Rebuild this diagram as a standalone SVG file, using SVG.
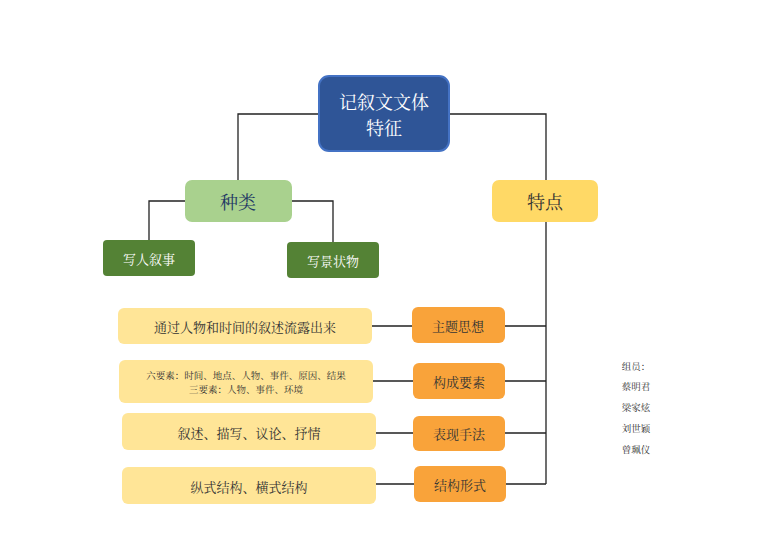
<svg xmlns="http://www.w3.org/2000/svg" width="768" height="543" viewBox="0 0 768 543">
<style>
text{font-family:"Noto Serif CJK SC","Noto Sans CJK SC",serif;text-anchor:middle;dominant-baseline:central}
.c{stroke:#222;stroke-width:1.3;fill:none}
.o{fill:#F9A33A}
.l{fill:#FFE597}
.t{fill:#333}
</style>
<rect width="768" height="543" fill="#fff"/>
<g id="connectors">
<path class="c" d="M319 114H238V180M449 114H546V180M185 201H149V240M292 201H333V242M546 222V484M505 326H546M505 381H546M505 433H546M506 484H546M372 326H412M373 381H413M376 433H413M376 484H414"/>
</g>
<g id="root"><rect x="319" y="76" width="130" height="75" rx="10" fill="#2F5597" stroke="#4472C4" stroke-width="2"/>
<text x="384" y="101" fill="#fff" font-size="18">记叙文文体</text><text x="384" y="127" fill="#fff" font-size="18">特征</text></g>
<g id="zhonglei"><rect x="185" y="180" width="107" height="42" rx="7" fill="#A9D18E"/><text x="238" y="201" font-size="18" fill="#1F3864">种类</text></g>
<g id="tedian"><rect x="492" y="180" width="106" height="42" rx="7" fill="#FFD966"/><text x="545" y="201" font-size="18" fill="#333">特点</text></g>
<g id="xieren"><rect x="103" y="240" width="92" height="36" rx="4" fill="#548235"/><text x="149" y="258" font-size="13" fill="#fff">写人叙事</text></g>
<g id="xiejing"><rect x="287" y="242" width="92" height="36" rx="4" fill="#548235"/><text x="333" y="260" font-size="13" fill="#fff">写景状物</text></g>
<g id="zhuti"><rect class="o" x="412" y="307" width="93" height="36" rx="6"/><text class="t" x="458" y="325" font-size="13">主题思想</text></g>
<g id="goucheng"><rect class="o" x="413" y="363" width="92" height="36" rx="6"/><text class="t" x="459" y="381" font-size="13">构成要素</text></g>
<g id="biaoxian"><rect class="o" x="413" y="416" width="92" height="35" rx="6"/><text class="t" x="459" y="433" font-size="13">表现手法</text></g>
<g id="jiegou"><rect class="o" x="414" y="466" width="92" height="36" rx="6"/><text class="t" x="460" y="484" font-size="13">结构形式</text></g>
<g id="d1"><rect class="l" x="118" y="308" width="254" height="36" rx="6"/><text class="t" x="245" y="326" font-size="13">通过人物和时间的叙述流露出来</text></g>
<g id="d2"><rect class="l" x="119" y="360" width="254" height="43" rx="6"/><text class="t" x="246" y="375" font-size="9.5">六要素：时间、地点、人物、事件、原因、结果</text><text class="t" x="246" y="389" font-size="9.5">三要素：人物、事件、环境</text></g>
<g id="d3"><rect class="l" x="122" y="413" width="254" height="37" rx="6"/><text class="t" x="249" y="432" font-size="13">叙述、描写、议论、抒情</text></g>
<g id="d4"><rect class="l" x="122" y="467" width="254" height="37" rx="6"/><text class="t" x="249" y="486" font-size="13">纵式结构、横式结构</text></g>
<g id="members" font-size="9.5" fill="#333">
<text x="636" y="366">组员：</text><text x="636" y="386">蔡明君</text><text x="636" y="407">梁家炫</text><text x="636" y="428">刘世颖</text><text x="636" y="449">曾珮仪</text></g>
</svg>
